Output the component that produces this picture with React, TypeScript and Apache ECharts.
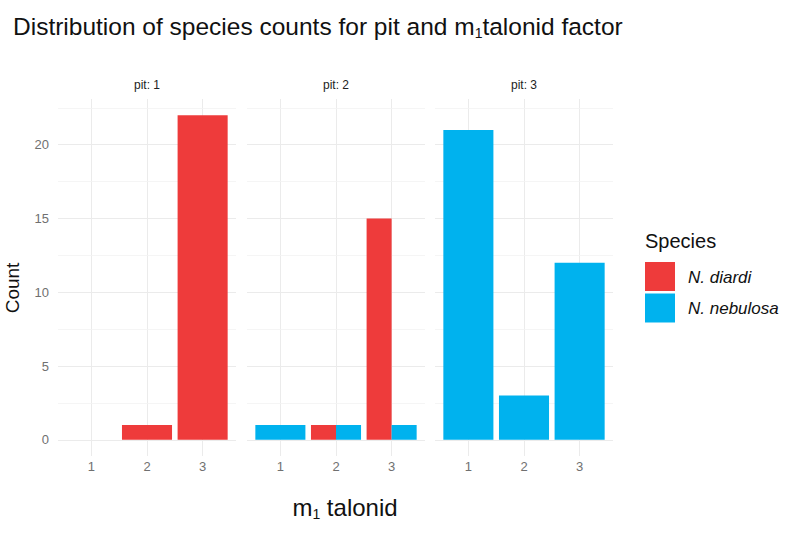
import React, { useEffect, useRef } from 'react';
import * as echarts from 'echarts';

const pits = ['1', '2', '3'];
const talonidLevels = [1, 2, 3];
const speciesNames = ['N. diardi', 'N. nebulosa'];
const speciesColors = ['#EE3B3B', '#00B2EE'];
// counts[pit][talonid]
const diardiCounts = [
  [0, 1, 22],
  [0, 1, 15],
  [0, 0, 0],
];
const nebulosaCounts = [
  [0, 0, 0],
  [1, 1, 1],
  [21, 3, 12],
];
const yMajorTicks = [0, 5, 10, 15, 20];
const yMinorTicks = [2.5, 7.5, 12.5, 17.5, 22.5];

const FONT = 'Liberation Sans, Arial, sans-serif';
const GRID_LEFTS = [58, 247, 435];
const GRID_W = 178;
const GRID_TOP = 99;
const GRID_H = 357;

function buildBars(p: number) {
  const all = [diardiCounts, nebulosaCounts];
  const out: number[][] = [];
  talonidLevels.forEach((t, j) => {
    const present = all.map((arr, s) => ({ s, c: arr[p][j] })).filter((d) => d.c > 0);
    const w = 0.9 / Math.max(present.length, 1);
    present.forEach((d, k) => {
      const center = t - 0.45 + w * (k + 0.5);
      out.push([center, d.c, w, d.s]);
    });
  });
  return out;
}

export default function App() {
  const ref = useRef<HTMLDivElement>(null);
  useEffect(() => {
    if (!ref.current) return;
    const chart = echarts.init(ref.current, null, { renderer: 'svg' });
    const grids = pits.map((_, i) => ({
      left: GRID_LEFTS[i],
      top: GRID_TOP,
      width: GRID_W,
      height: GRID_H,
    }));
    const xAxes = pits.map((_, i) => ({
      type: 'value',
      gridIndex: i,
      min: 0.4,
      max: 3.6,
      axisLine: { show: false },
      axisTick: { show: false },
      splitLine: { show: false },
      axisLabel: {
        customValues: talonidLevels,
        color: '#707070',
        fontSize: 13,
        fontFamily: FONT,
        margin: 4,
      },
    }));
    const yAxes = pits.map((_, i) => ({
      type: 'value',
      gridIndex: i,
      min: -1.1,
      max: 23.1,
      axisLine: { show: false },
      axisTick: { show: false },
      splitLine: { show: false },
      axisLabel: {
        show: i === 0,
        customValues: yMajorTicks,
        color: '#707070',
        fontSize: 13,
        fontFamily: FONT,
        margin: 9,
      },
    }));
    const gridLineData: any[] = [];
    talonidLevels.forEach((t) => gridLineData.push({ xAxis: t, lineStyle: { color: '#EBEBEB', width: 1, type: 'solid' } }));
    yMajorTicks.forEach((v) => gridLineData.push({ yAxis: v, lineStyle: { color: '#EBEBEB', width: 1, type: 'solid' } }));
    yMinorTicks.forEach((v) => gridLineData.push({ yAxis: v, lineStyle: { color: '#F2F2F2', width: 0.8, type: 'solid' } }));

    const series = pits.map((_, i) => ({
      type: 'custom',
      xAxisIndex: i,
      yAxisIndex: i,
      encode: { x: 0, y: 1 },
      data: buildBars(i),
      renderItem: (params: any, api: any) => {
        const x = api.value(0);
        const c = api.value(1);
        const w = api.value(2);
        const s = api.value(3);
        const p0 = api.coord([x - w / 2, 0]);
        const p1 = api.coord([x + w / 2, c]);
        return {
          type: 'rect',
          shape: { x: p0[0], y: p1[1], width: p1[0] - p0[0], height: p0[1] - p1[1] },
          style: { fill: speciesColors[s] },
        };
      },
      markLine: {
        silent: true,
        symbol: 'none',
        label: { show: false },
        z: 0,
        data: gridLineData,
      },
      z: 2,
    }));

    const graphics: any[] = [];
    pits.forEach((p, i) => {
      graphics.push({
        type: 'text',
        x: GRID_LEFTS[i] + GRID_W / 2,
        y: 85,
        style: {
          text: 'pit: ' + p,
          fontSize: 12,
          fontFamily: FONT,
          fill: '#222',
          align: 'center',
          verticalAlign: 'middle',
        },
      });
    });
    graphics.push({
      type: 'text',
      x: 12,
      y: 288,
      rotation: Math.PI / 2,
      style: {
        text: 'Count',
        fontSize: 19,
        fontFamily: FONT,
        fill: '#111',
        align: 'center',
        verticalAlign: 'middle',
      },
    });
    graphics.push({
      type: 'text',
      x: 345,
      y: 507,
      style: {
        text: 'm{sub|1} talonid',
        fontSize: 24,
        lineHeight: 30,
        fontFamily: FONT,
        fill: '#111',
        align: 'center',
        verticalAlign: 'middle',
        rich: {
          sub: { fontSize: 14, fontFamily: FONT, fill: '#111', verticalAlign: 'top', lineHeight: 14, padding: [15, 0, 0, 0] },
        },
      },
    });
    graphics.push({
      type: 'text',
      x: 645,
      y: 241,
      style: {
        text: 'Species',
        fontSize: 20,
        fontFamily: FONT,
        fill: '#111',
        align: 'left',
        verticalAlign: 'middle',
      },
    });
    speciesNames.forEach((name, k) => {
      graphics.push({
        type: 'rect',
        shape: { x: 645, y: 262 + k * 31.5, width: 30, height: 29 },
        style: { fill: speciesColors[k] },
      });
      graphics.push({
        type: 'text',
        x: 688,
        y: 277 + k * 31.5,
        style: {
          text: name,
          fontSize: 17,
          fontStyle: 'italic',
          fontFamily: FONT,
          fill: '#111',
          align: 'left',
          verticalAlign: 'middle',
        },
      });
    });

    chart.setOption({
      animation: false,
      backgroundColor: '#ffffff',
      title: {
        text: 'Distribution of species counts for pit and m{sub|1}talonid factor',
        left: 13,
        top: 11,
        padding: 0,
        textStyle: {
          fontSize: 24.5,
          lineHeight: 30,
          fontWeight: 'normal',
          fontFamily: FONT,
          color: '#111',
          rich: {
            sub: { fontSize: 14, fontFamily: FONT, color: '#111', verticalAlign: 'top', lineHeight: 14, padding: [15, 0, 0, 0] },
          },
        },
      },
      grid: grids,
      xAxis: xAxes,
      yAxis: yAxes,
      series,
      graphic: graphics,
    });
    return () => chart.dispose();
  }, []);
  return <div ref={ref} style={{ width: 788, height: 533, position: 'absolute', left: 0, top: 0 }} />;
}
